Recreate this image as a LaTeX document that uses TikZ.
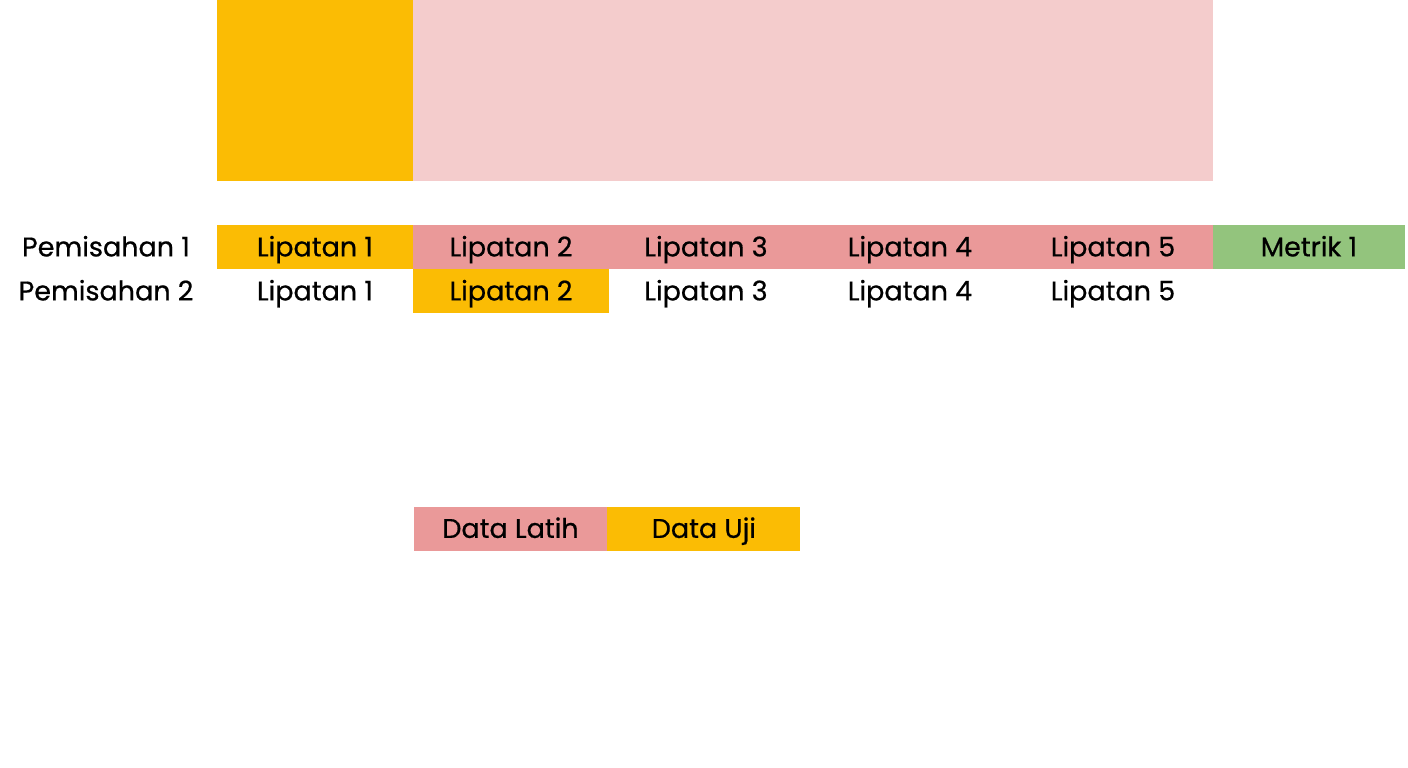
\documentclass[tikz,border=0pt]{standalone}
\usepackage{fontspec}
\setmainfont{Poppins}[FakeBold=0.6]
\usetikzlibrary{positioning}
\definecolor{testyellow}{HTML}{FBBC04}
\definecolor{trainred}{HTML}{EA9999}
\definecolor{trainpink}{HTML}{F4CCCC}
\definecolor{metricgreen}{HTML}{93C47D}

\begin{document}
\begin{tikzpicture}[x=1pt, y=-1pt,
    cell/.style={minimum height=44pt, inner sep=0pt, text height=25.6pt, text depth=6.8pt, font=\fontsize{27}{32}\selectfont},
    label/.style={inner sep=0pt, text height=25.6pt, text depth=6.8pt, font=\fontsize{27}{32}\selectfont}]
    \useasboundingbox (0,0) rectangle (1408,768);
    % Top bar
    \fill[testyellow] (217,0) rectangle (413,181);
    \fill[trainpink] (413,0) rectangle (1213,181);
    % Split 1
    \node[label] (split1) at (106,247) {Pemisahan 1};
    \node[cell, fill=testyellow, minimum width=196pt] (s1f1) at (315,247) {Lipatan 1};
    \node[cell, fill=trainred, minimum width=800pt] (s1train) at (813,247) {};
    \node[label] (s1f2) at (511,247) {Lipatan 2};
    \node[label] (s1f3) at (706,247) {Lipatan 3};
    \node[label] (s1f4) at (910,247) {Lipatan 4};
    \node[label] (s1f5) at (1113,247) {Lipatan 5};
    \node[cell, fill=metricgreen, minimum width=192pt] (metric1) at (1309,247) {Metrik 1};
    % Split 2
    \node[label] (split2) at (106,291) {Pemisahan 2};
    \node[label] (s2f1) at (315,291) {Lipatan 1};
    \node[cell, fill=testyellow, minimum width=196pt] (s2f2) at (511,291) {Lipatan 2};
    \node[label] (s2f3) at (706,291) {Lipatan 3};
    \node[label] (s2f4) at (910,291) {Lipatan 4};
    \node[label] (s2f5) at (1113,291) {Lipatan 5};
    % Legend
    \node[cell, fill=trainred, minimum width=193pt] (train) at (510.5,528.5) {Data Latih};
    \node[cell, fill=testyellow, minimum width=193pt, right=0pt of train] (test) {Data Uji};
\end{tikzpicture}
\end{document}
